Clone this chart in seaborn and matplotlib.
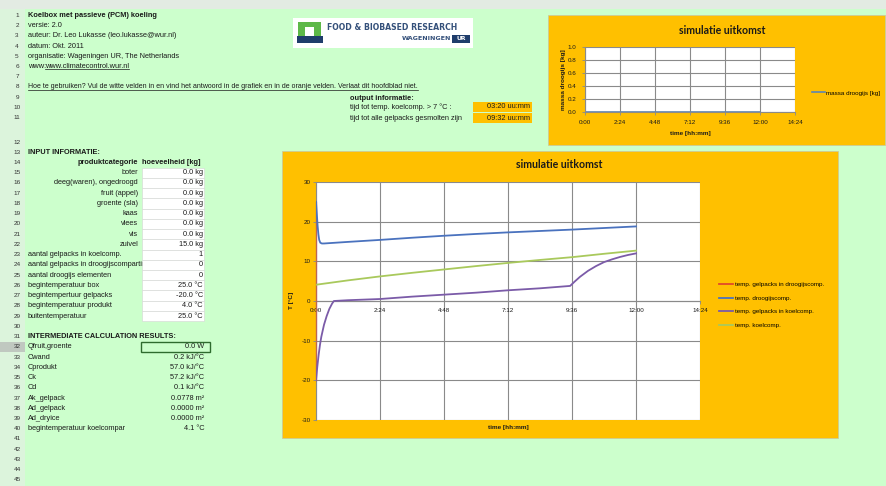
import matplotlib
matplotlib.use("Agg")
import matplotlib.pyplot as plt
import matplotlib.patches as mpatches
from matplotlib.lines import Line2D
import seaborn as sns

# ---------------- data ----------------
tijd_ticks_uur = [0.0, 2.4, 4.8, 7.2, 9.6, 12.0, 14.4]
tijd_tick_labels = ["0:00", "2:24", "4:48", "7:12", "9:36", "12:00", "14:24"]
temp_ticks = [-30, -20, -10, 0, 10, 20, 30]
massa_ticks = [0.0, 0.2, 0.4, 0.6, 0.8, 1.0]

# temp. gelpacks in droogijscomp.
t_gel_droog = [0.0, 0.0]
T_gel_droog = [-20.0, 25.0]
# temp. droogijscomp.
t_droog = [0.0, 0.03, 0.06, 0.09, 0.12, 0.16, 0.22, 0.3, 1.2, 2.4, 3.6, 4.8, 6.0, 7.2, 8.4, 9.6, 10.8, 12.0]
T_droog = [25.0, 22.0, 19.0, 16.8, 15.4, 14.7, 14.5, 14.5, 14.9, 15.4, 15.95, 16.45, 16.9, 17.3, 17.65, 18.0, 18.4, 18.8]
# temp. gelpacks in koelcomp.
t_gel_koel = [0.0, 0.05, 0.1, 0.15, 0.2, 0.3, 0.4, 0.5, 0.6, 0.67, 1.2, 2.4, 3.6, 4.8, 6.0, 7.2, 8.4,
              9.53, 9.7, 9.9, 10.2, 10.5, 10.8, 11.1, 11.4, 11.7, 12.0]
T_gel_koel = [-20.0, -16.5, -13.5, -11.0, -9.0, -6.0, -3.8, -2.0, -0.7, 0.0, 0.2, 0.5, 1.1, 1.6, 2.1, 2.7, 3.2,
              3.8, 4.9, 6.1, 7.6, 8.8, 9.8, 10.5, 11.1, 11.6, 12.0]
# temp. koelcomp.
t_koel = [0.0, 1.2, 2.4, 3.6, 4.8, 6.0, 7.2, 8.4, 9.6, 10.8, 12.0]
T_koel = [4.1, 5.2, 6.2, 7.1, 7.95, 8.8, 9.6, 10.35, 11.05, 11.9, 12.7]
# massa droogijs
t_massa = [0.0, 12.0]
massa_droogijs = [0.0, 0.0]

serie_namen = ["temp. gelpacks in droogijscomp.", "temp. droogijscomp.",
               "temp. gelpacks in koelcomp.", "temp. koelcomp."]

kop_regels = ["Koelbox met passieve (PCM) koeling", "versie: 2.0",
              "auteur: Dr. Leo Lukasse (leo.lukasse@wur.nl)", "datum: Okt. 2011",
              "organisatie: Wageningen UR, The Netherlands"]
www_label = "www:"
www_link = "www.climatecontrol.wur.nl"
uitleg = ("Hoe te gebruiken? Vul de witte velden in en vind het antwoord in de grafiek en in de "
          "oranje velden. Verlaat dit hoofdblad niet.")
uitvoer_labels = ["tijd tot temp. koelcomp. > 7 °C :", "tijd tot alle gelpacks gesmolten zijn"]
uitvoer_waarden = ["03:20 uu:mm", "09:32 uu:mm"]

produktcategorieen = ["boter", "deeg(waren), ongedroogd", "fruit (appel)", "groente (sla)",
                      "kaas", "vlees", "vis", "zuivel"]
hoeveelheid_kg = [0.0, 0.0, 0.0, 0.0, 0.0, 0.0, 0.0, 15.0]
overige_labels = ["aantal gelpacks in koelcomp.", "aantal gelpacks in droogijscompartiment",
                  "aantal droogijs elementen", "begintemperatuur box", "begintempertuur gelpacks",
                  "begintemperatuur produkt", "buitentemperatuur"]
overige_waarden = ["1", "0", "0", "25.0 °C", "-20.0 °C", "4.0 °C", "25.0 °C"]
tussen_labels = ["Qfruit,groente", "Cwand", "Cprodukt", "Ck", "Cd", "Ak_gelpack", "Ad_gelpack",
                 "Ad_dryice", "begintemperatuur koelcompar"]
tussen_waarden = ["0.0 W", "0.2 kJ/°C", "57.0 kJ/°C", "57.2 kJ/°C", "0.1 kJ/°C", "0.0778 m²",
                  "0.0000 m²", "0.0000 m²", "4.1 °C"]

# ---------------- figure ----------------
W, H = 886, 486
fig = plt.figure(figsize=(W / 100, H / 100), dpi=100)
GREEN = "#CCFFCC"
ORANGE = "#FFC000"
fig.patch.set_facecolor(GREEN)
SHEET = "Liberation Sans"
FS = 5.3


def fx(x):
    return x / W


def fy(y):
    return 1 - y / H


def rect(x0, y0, x1, y1, fc, ec="none", lw=0.5, z=1):
    r = mpatches.Rectangle((fx(x0), fy(y1)), fx(x1) - fx(x0), fy(y0) - fy(y1),
                           transform=fig.transFigure, facecolor=fc, edgecolor=ec, lw=lw, zorder=z)
    fig.patches.append(r)
    return r


def txt(x, y, s, ha="left", size=FS, weight="normal", z=3, color="#1a1a1a", family=SHEET, **kw):
    return fig.text(fx(x), fy(y), s, ha=ha, va="center", fontsize=size, fontweight=weight,
                    family=family, color=color, zorder=z, **kw)


def row_y(n):
    if n <= 11:
        return 15.5 + (n - 1) * 10.2
    return 142 + (n - 12) * 10.24


# header bands
rect(0, 0, W, 9, "#E3EBE3", z=0.5)
rect(0, 9, 25, H, "#DCF4DC", z=0.5)
for n in range(1, 46):
    txt(17, row_y(n), str(n), ha="center", size=4.6, color="#333333")

# top info
txt(28, row_y(1), kop_regels[0], weight="bold")
for i, s in enumerate(kop_regels[1:]):
    txt(28, row_y(2 + i), s)
txt(28, row_y(6), www_label)
t_link = txt(45, row_y(6), www_link)
t_uitleg = txt(28, row_y(8), uitleg, size=5.0)
underlined = [t_link, t_uitleg]

# output info
txt(350, 98, "output informatie:", weight="bold")
for i, (lab, val) in enumerate(zip(uitvoer_labels, uitvoer_waarden)):
    yc = 107 + i * 11
    txt(350, yc, lab, z=1)
    rect(473, yc - 5.2, 532, yc + 5.2, ORANGE, z=2)
    txt(530, yc, val, ha="right", z=3)

# input info
txt(28, row_y(13), "INPUT INFORMATIE:", weight="bold")
txt(138, row_y(14), "produktcategorie", ha="right", weight="bold")
txt(142, row_y(14), "hoeveelheid [kg]", weight="bold")
for i, (cat, kg) in enumerate(zip(produktcategorieen, hoeveelheid_kg)):
    n = 15 + i
    yc = row_y(n)
    txt(138, yc, cat, ha="right", z=1)
    rect(142, yc - 5.12, 204, yc + 5.12, "white", ec="#d4d4d4", lw=0.4, z=2)
    txt(203, yc, f"{kg:.1f} kg", ha="right", z=3)
for i, (lab, val) in enumerate(zip(overige_labels, overige_waarden)):
    n = 23 + i
    yc = row_y(n)
    txt(28, yc, lab, z=1)
    rect(142, yc - 5.12, 204, yc + 5.12, "white", ec="#d4d4d4", lw=0.4, z=2)
    txt(203, yc, val, ha="right", z=3)

# intermediate results
txt(28, row_y(31), "INTERMEDIATE CALCULATION RESULTS:", weight="bold")
for i, (lab, val) in enumerate(zip(tussen_labels, tussen_waarden)):
    n = 32 + i
    yc = row_y(n)
    txt(28, yc, lab, z=1)
    txt(204, yc, val, ha="right", z=3)
yc = row_y(32)
rect(141, yc - 5.3, 210, yc + 5.3, "none", ec="#2e6b2e", lw=1.0, z=4)
rect(0, yc - 5.1, 25, yc + 5.1, "#C0C8C0", z=0.6)

# logo
rect(293, 18, 473, 48, "white", z=1)
rect(298, 22, 321, 36, "#5DB848", z=2)
rect(305, 27, 314, 36, "white", z=3)
rect(297, 36, 323, 43, "#1F3D6B", z=2)
txt(327, 27, "FOOD & BIOBASED RESEARCH", size=5.6, color="#34507a", family="DejaVu Sans", weight="bold")
txt(451, 39, "WAGENINGEN", ha="right", size=4.6, color="#34507a", family="DejaVu Sans", weight="bold")
rect(452, 35, 470, 43, "#1F3D6B", z=2)
txt(461, 39, "UR", ha="center", size=4.4, color="white", family="DejaVu Sans", weight="bold")

# ---------------- chart panels ----------------
rect(282, 151, 838, 438, ORANGE, ec="#c8c8a0", lw=0.5, z=0.8)
rect(548, 15, 885, 145, ORANGE, ec="#c8c8a0", lw=0.5, z=0.8)

GRID = "#8a8a8a"
TFS = 4.5


def px_axes(x0, y0, x1, y1):
    a = fig.add_axes([fx(x0), fy(y1), fx(x1) - fx(x0), fy(y0) - fy(y1)])
    a.set_zorder(5)
    return a


def fmt_axes(ax):
    ax.set_facecolor("white")
    ax.grid(True, color=GRID, lw=0.8)
    ax.set_axisbelow(True)
    for s in ["top", "right"]:
        ax.spines[s].set_visible(False)
    for s in ["left", "bottom"]:
        ax.spines[s].set_color(GRID)
        ax.spines[s].set_linewidth(0.8)
    ax.tick_params(length=2, width=0.6, color=GRID, labelsize=TFS, pad=2, labelcolor="#1a1a1a")
    for lab in ax.get_xticklabels() + ax.get_yticklabels():
        lab.set_family(SHEET)
    ax.set_xlabel("")
    ax.set_ylabel("")


# main chart
ax = px_axes(316, 182, 700, 420)
kleuren = ["#E2492A", "#4A72BE", "#7B5BA8", "#A9C95C"]
series = [(t_gel_droog, T_gel_droog), (t_droog, T_droog), (t_gel_koel, T_gel_koel), (t_koel, T_koel)]
for (tt, TT), c, naam in zip(series, kleuren, serie_namen):
    sns.lineplot(x=tt, y=TT, ax=ax, color=c, lw=1.3, label=naam, estimator=None, sort=False)
ax.lines[0].set_zorder(2.6)
ax.lines[0].set_alpha(0.55)
ax.lines[0].set_linewidth(1.0)
ax.lines[0].set_clip_on(False)
for ln in ax.lines[1:]:
    ln.set_zorder(2.7)
ax.set_xlim(0, 14.4)
ax.set_ylim(-30, 30)
ax.set_xticks(tijd_ticks_uur)
ax.set_xticklabels(tijd_tick_labels)
ax.set_yticks(temp_ticks)
ax.set_yticklabels([str(v) for v in temp_ticks])
ax.spines["bottom"].set_position(("data", 0))
fmt_axes(ax)
ax.tick_params(axis="x", pad=3)
leg = ax.legend(loc="upper left", bbox_to_anchor=(fx(719), fy(282)), bbox_transform=fig.transFigure,
                frameon=False, handlelength=2.3, labelspacing=1.3, handletextpad=0.3,
                borderaxespad=0, borderpad=0, prop={"family": SHEET, "size": TFS})
for h in leg.get_lines():
    h.set_alpha(1.0)
    h.set_linewidth(1.3)
txt(559, 164, "simulatie uitkomst", ha="center", size=7.6, weight="bold", family="Lato")
txt(291, 300, "T [°C]", ha="center", size=4.6, weight="bold", rotation=90)
txt(508, 427, "time [hh:mm]", ha="center", size=4.6, weight="bold")

# small chart
ax2 = px_axes(585, 47, 795, 112)
sns.lineplot(x=t_massa, y=massa_droogijs, ax=ax2, color="#5C86B5", lw=1.2, label="massa droogijs [kg]",
             estimator=None, sort=False)
ax2.set_xlim(0, 14.4)
ax2.set_ylim(0, 1.0)
ax2.set_xticks(tijd_ticks_uur)
ax2.set_xticklabels(tijd_tick_labels)
ax2.set_yticks(massa_ticks)
ax2.set_yticklabels([f"{v:.1f}" for v in massa_ticks])
fmt_axes(ax2)
ax2.tick_params(axis="x", pad=4)
ax2.tick_params(axis="y", pad=4)
ax2.legend(loc="center left", bbox_to_anchor=(fx(812), fy(93)), bbox_transform=fig.transFigure,
           frameon=False, handlelength=2.0, handletextpad=0.3, borderaxespad=0, borderpad=0,
           prop={"family": SHEET, "size": TFS})
txt(722, 31, "simulatie uitkomst", ha="center", size=7.6, weight="bold", family="Lato")
txt(563, 80, "massa droogijs [kg]", ha="center", size=4.6, weight="bold", rotation=90)
txt(690, 133, "time [hh:mm]", ha="center", size=4.6, weight="bold")

# underline links
fig.canvas.draw()
r = fig.canvas.get_renderer()
for t in underlined:
    bb = t.get_window_extent(renderer=r)
    yb = bb.y0 + 0.5
    fig.lines.append(Line2D([bb.x0 / W, bb.x1 / W], [yb / H, yb / H], transform=fig.transFigure,
                            color="#1a1a1a", lw=0.5))

fig.savefig("out.png", dpi=100, facecolor=GREEN)
